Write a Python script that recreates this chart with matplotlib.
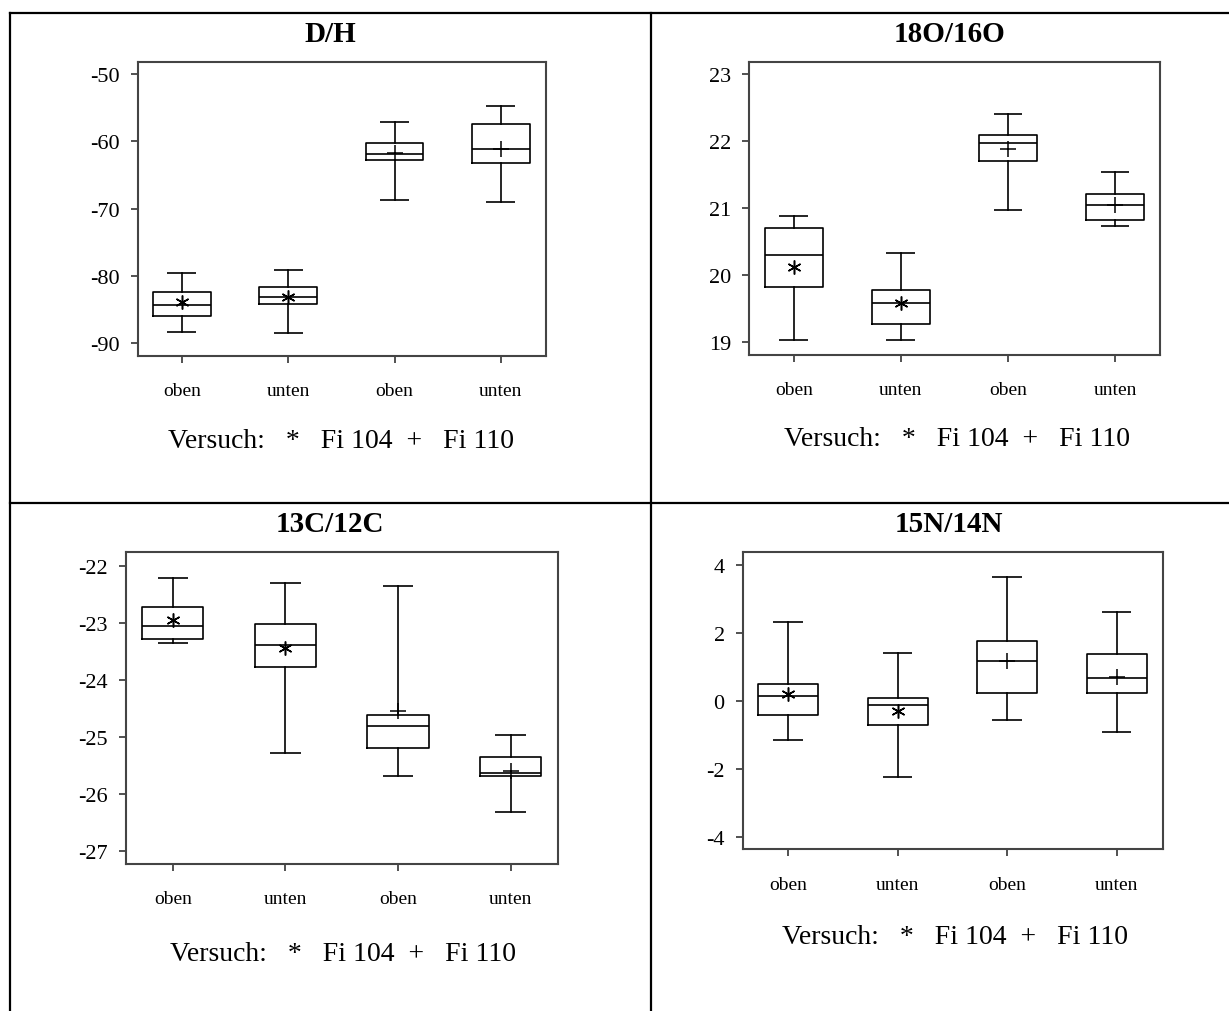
import matplotlib
matplotlib.use("Agg")
import matplotlib.pyplot as plt
from matplotlib.lines import Line2D

plt.rcParams['font.family'] = ['Liberation Serif', 'DejaVu Serif']
plt.rcParams['axes.unicode_minus'] = False

W, H = 1229, 1012

# Beschriftungen
titel = ["D/H", "18O/16O", "13C/12C", "15N/14N"]
kategorien = ["oben", "unten", "oben", "unten"]
legende = "Versuch:   *   Fi 104  +   Fi 110"

# Boxplot-Kennwerte: Fi 104 oben/unten, Fi 110 oben/unten
dh_lo = [-88.3, -88.5, -68.8, -69.0]
dh_q1 = [-85.9, -84.2, -62.8, -63.2]
dh_med = [-84.4, -83.2, -61.9, -61.2]
dh_q3 = [-82.4, -81.7, -60.3, -57.5]
dh_hi = [-79.55, -79.06, -57.1, -54.8]
dh_mean = [-83.9, -83.1, -61.8, -61.1]

o_lo = [19.02, 19.02, 20.96, 20.73]
o_q1 = [19.82, 19.27, 21.70, 20.81]
o_med = [20.29, 19.58, 21.97, 21.04]
o_q3 = [20.70, 19.77, 22.09, 21.20]
o_hi = [20.87, 20.32, 22.40, 21.53]
o_mean = [20.12, 19.58, 21.88, 21.04]

c_lo = [-23.36, -25.28, -25.69, -26.31]
c_q1 = [-23.29, -23.78, -25.20, -25.69]
c_med = [-23.05, -23.39, -24.81, -25.64]
c_q3 = [-22.72, -23.02, -24.61, -25.36]
c_hi = [-22.21, -22.31, -22.36, -24.97]
c_mean = [-22.95, -23.44, -24.55, -25.60]

n_lo = [-1.15, -2.23, -0.57, -0.91]
n_q1 = [-0.41, -0.71, 0.22, 0.22]
n_med = [0.13, -0.13, 1.16, 0.67]
n_q3 = [0.50, 0.08, 1.74, 1.36]
n_hi = [2.31, 1.40, 3.63, 2.60]
n_mean = [0.20, -0.29, 1.18, 0.70]

dh_ticks = [-90, -80, -70, -60, -50]
o_ticks = [19, 20, 21, 22, 23]
c_ticks = [-27, -26, -25, -24, -23, -22]
n_ticks = [-4, -2, 0, 2, 4]

daten = [
    (dh_lo, dh_q1, dh_med, dh_q3, dh_hi, dh_mean, dh_ticks, (-91.84, -48.17)),
    (o_lo, o_q1, o_med, o_q3, o_hi, o_mean, o_ticks, (18.80, 23.18)),
    (c_lo, c_q1, c_med, c_q3, c_hi, c_mean, c_ticks, (-27.23, -21.76)),
    (n_lo, n_q1, n_med, n_q3, n_hi, n_mean, n_ticks, (-4.37, 4.38)),
]

# Lage der Achsen in Pixeln (links, rechts, oben, unten)
achsen_px = [(137.7, 545.5, 62.7, 356.5), (749.4, 1160.0, 62.7, 356.0),
             (126.0, 558.0, 553.0, 865.0), (742.7, 1162.7, 552.7, 850.3)]
titel_px = [(330, 35), (949, 35), (330, 525), (949, 525)]
legende_px = [(341.5, 441), (957, 439), (343, 955), (955, 938)]

fig = plt.figure(figsize=(W / 100, H / 100), dpi=100)

# Tabellenrahmen
def linie(x0, y0, x1, y1):
    fig.add_artist(Line2D([x0 / W, x1 / W], [1 - y0 / H, 1 - y1 / H],
                          color='black', lw=1.6, transform=fig.transFigure))

linie(10, 14, W, 14)
linie(10, 14, 10, H)
linie(651, 14, 651, H)
linie(10, 504, W, 504)

pos = [1, 2, 3, 4]
asterisk = (6, 2, 0)

for i, (lo, q1, med, q3, hi, mean, ticks, ylim) in enumerate(daten):
    l, r, t, b = achsen_px[i]
    ax = fig.add_axes([l / W, 1 - b / H, (r - l) / W, (b - t) / H])
    stats = []
    for k in range(4):
        stats.append(dict(whislo=lo[k], q1=q1[k], med=med[k], q3=q3[k],
                          whishi=hi[k], fliers=[]))
    ax.bxp(stats, positions=pos, widths=0.545, showfliers=False,
           boxprops=dict(color='black', lw=1.2),
           medianprops=dict(color='black', lw=1.2),
           whiskerprops=dict(color='black', lw=1.2),
           capprops=dict(color='black', lw=1.2, solid_capstyle='butt'),
           capwidths=0.27)
    # Mittelwerte
    ax.plot(pos[:2], mean[:2], ls='none', marker=asterisk, ms=10, mew=1.1,
            color='black')
    ax.plot(pos[2:], mean[2:], ls='none', marker='+', ms=11, mew=1.1,
            color='black')

    ax.set_xlim(0.585, 4.42)
    ax.set_ylim(*ylim)
    ax.set_yticks(ticks)
    ax.set_yticklabels([str(v) for v in ticks])
    ax.set_xticks(pos)
    ax.set_xticklabels(kategorien)
    ax.tick_params(axis='y', direction='out', length=5, width=1.2, pad=8,
                   labelsize=16, color='#333333')
    ax.tick_params(axis='x', direction='out', length=5, width=1.2, pad=14,
                   labelsize=14, color='#333333')
    for s in ax.spines.values():
        s.set_linewidth(1.5)
        s.set_color('#444444')

    tx, ty = titel_px[i]
    fig.text(tx / W, 1 - ty / H, titel[i], ha='center', va='center',
             fontsize=21, fontweight='bold')
    lx, ly = legende_px[i]
    fig.text(lx / W, 1 - ly / H, legende, ha='center', va='center', fontsize=20)

fig.savefig("out.png", dpi=100)
